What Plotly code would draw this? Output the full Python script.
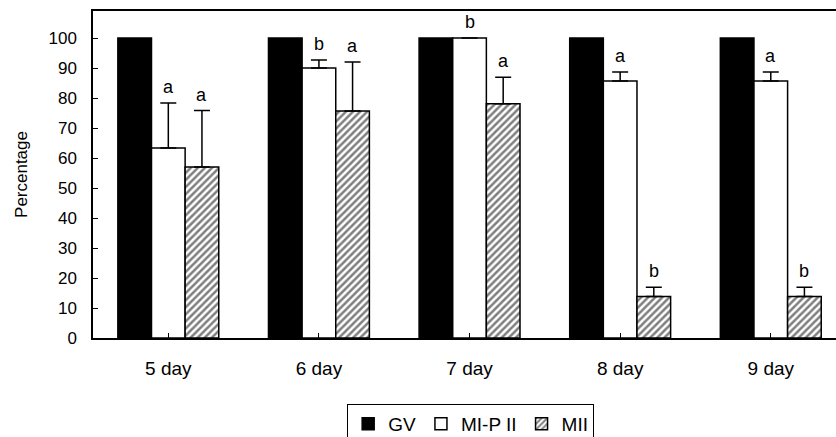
import plotly.graph_objects as go

categories = ["5 day", "6 day", "7 day", "8 day", "9 day"]
gv = [100, 100, 100, 100, 100]
mip = [63.3, 90.0, 100.0, 85.7, 85.7]
mip_err = [15.0, 2.7, 0.0, 3.0, 3.0]
mii = [57.0, 75.7, 78.1, 13.8, 13.8]
mii_err = [18.8, 16.3, 8.8, 3.1, 3.1]
mip_letters = ["a", "b", "b", "a", "a"]
mii_letters = ["a", "a", "a", "b", "b"]
yticks = [0, 10, 20, 30, 40, 50, 60, 70, 80, 90, 100]

FONT = "Liberation Sans, Arial, sans-serif"
bargap = 0.33
bw = (1 - bargap) / 3
xs = list(range(len(categories)))

fig = go.Figure()
fig.add_trace(go.Bar(x=xs, y=gv, name="GV", width=bw,
                     marker=dict(color="black", line=dict(color="black", width=1.5))))
fig.add_trace(go.Bar(x=xs, y=mip, name="MI-P II", width=bw,
                     marker=dict(color="white", line=dict(color="black", width=1.5)),
                     error_y=dict(type="data", array=mip_err, arrayminus=[0]*5, symmetric=False,
                                  color="black", thickness=1.5, width=8)))
fig.add_trace(go.Bar(x=xs, y=mii, name="MII", width=bw,
                     marker=dict(color="white", line=dict(color="black", width=1.5),
                                 pattern=dict(shape="/", fgcolor="black", bgcolor="white",
                                              size=5, solidity=0.5)),
                     error_y=dict(type="data", array=mii_err, arrayminus=[0]*5, symmetric=False,
                                  color="black", thickness=1.5, width=8)))

for i in xs:
    fig.add_annotation(x=i, y=mip[i] + mip_err[i], text=mip_letters[i], showarrow=False,
                       yanchor="bottom", yshift=4, font=dict(family=FONT, size=18, color="black"))
    fig.add_annotation(x=i + bw, y=mii[i] + mii_err[i], text=mii_letters[i], showarrow=False,
                       yanchor="bottom", yshift=4, font=dict(family=FONT, size=18, color="black"))

fig.update_layout(
    width=836, height=437,
    margin=dict(l=93, r=0, t=11, b=99, autoexpand=False),
    paper_bgcolor="white", plot_bgcolor="white",
    barmode="group", bargap=bargap, bargroupgap=0,
    font=dict(family=FONT, size=17, color="black"),
    showlegend=True,
    legend=dict(orientation="h", xref="container", yref="container",
                x=0.563, xanchor="center", y=0.0755, yanchor="top",
                bordercolor="black", borderwidth=1, font=dict(size=19),
                itemwidth=30, traceorder="normal"),
    xaxis=dict(range=[-0.5, 4.433], tickmode="array", tickvals=xs, ticktext=categories,
               showline=True, linecolor="black", linewidth=1.5, mirror=True,
               ticks="inside", tickson="boundaries", ticklen=5, tickcolor="black",
               showgrid=False, zeroline=False, tickfont=dict(size=19),
               ticklabelstandoff=12, automargin=False),
    yaxis=dict(range=[0, 109], tickmode="array", tickvals=yticks,
               showline=True, linecolor="black", linewidth=1.5, mirror=False,
               ticks="inside", ticklen=5, tickcolor="black",
               showgrid=False, zeroline=False, tickfont=dict(size=17),
               ticklabelstandoff=11, automargin=False,
               title=dict(text="Percentage", font=dict(size=17), standoff=17)),
)

fig.write_html("out.html", config={"displayModeBar": False},
               post_script="document.body.style.margin='0';document.body.style.overflow='hidden';")
